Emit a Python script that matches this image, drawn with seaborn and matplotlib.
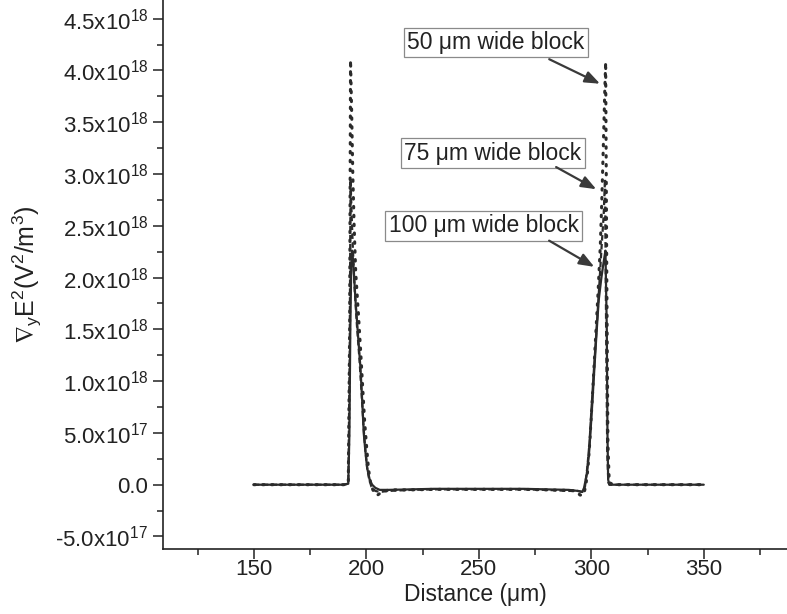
import matplotlib
matplotlib.use("Agg")
import matplotlib.pyplot as plt
from matplotlib.ticker import FixedLocator, MultipleLocator, FixedFormatter
import seaborn as sns
import pandas as pd

# 100 um wide block (solid)
x100 = [150, 190, 192.0, 192.5, 192.9, 193.3, 193.7, 194.2, 195.2, 196.3, 197.4, 198.2,
        198.9, 199.7, 200.4, 201.5, 202.6, 204, 206, 210, 220, 230, 240, 250, 260, 270,
        280, 290, 294, 296, 296.8, 298, 299, 299.6, 300.5, 301.4, 302.3, 303.3, 304.5,
        305.5, 306.3, 306.9, 307.2, 307.5, 308, 310, 350]
y100 = [0, 0, 0.01, 0.5, 1.5, 2.1, 2.26, 2.15, 1.78, 1.45, 1.13, 0.8,
        0.49, 0.3, 0.16, 0.05, 0.0, -0.03, -0.05, -0.05, -0.045, -0.04, -0.04, -0.04, -0.04, -0.04,
        -0.045, -0.05, -0.06, -0.07, -0.03, 0.1, 0.3, 0.49, 0.8, 1.13, 1.45, 1.78, 2.0,
        2.15, 2.26, 1.5, 0.5, 0.05, 0, 0, 0]

# 75 um wide block (dashed)
x75 = [150, 190, 192.0, 192.6, 193.0, 193.5, 194.0, 194.8, 195.8, 197, 198, 198.8, 199.6,
       200.4, 201.3, 202.3, 204, 206, 210, 220, 230, 240, 250, 260, 270, 280, 290,
       294, 296, 297.2, 298.2, 299.2, 300, 301, 302.2, 303.5, 304.6, 305.5, 306.1, 306.6,
       307.1, 307.6, 308.2, 310, 350]
y75 = [0, 0, 0.01, 1.2, 2.95, 2.6, 2.3, 1.9, 1.55, 1.2, 0.85, 0.55, 0.33,
       0.16, 0.05, -0.02, -0.06, -0.07, -0.06, -0.05, -0.045, -0.045, -0.045, -0.045, -0.045, -0.05, -0.06,
       -0.06, -0.07, -0.02, 0.16, 0.4, 0.7, 1.05, 1.45, 1.9, 2.3, 2.6, 2.95, 1.5,
       0.3, 0.02, 0, 0, 0]

# 50 um wide block (dotted)
x50 = [150, 190, 192.0, 192.6, 193.0, 193.5, 194.0, 194.6, 195.3, 196.5, 197.6, 198.5, 199.3,
       200.2, 201, 202, 203.5, 205, 207, 210, 220, 230, 240, 250, 260, 270, 280, 290,
       293, 295, 296.5, 297.5, 298.5, 299.3, 300.1, 301, 302, 303, 304, 304.7, 305.4, 306,
       306.4, 306.9, 307.4, 308, 310, 350]
y50 = [0, 0, 0.01, 1.5, 4.1, 3.6, 3.0, 2.5, 2.05, 1.65, 1.25, 0.9, 0.6,
       0.35, 0.15, 0.0, -0.08, -0.1, -0.07, -0.05, -0.05, -0.045, -0.045, -0.045, -0.045, -0.045, -0.05, -0.055,
       -0.06, -0.1, -0.1, -0.02, 0.15, 0.4, 0.7, 1.05, 1.45, 1.85, 2.3, 2.75, 3.3, 3.8,
       4.08, 2.0, 0.4, 0.02, 0, 0]

ytick_vals = [-0.5, 0.0, 0.5, 1.0, 1.5, 2.0, 2.5, 3.0, 3.5, 4.0, 4.5]
ytick_labels = ['-5.0x10$^{17}$', '0.0', '5.0x10$^{17}$', '1.0x10$^{18}$', '1.5x10$^{18}$',
                '2.0x10$^{18}$', '2.5x10$^{18}$', '3.0x10$^{18}$', '3.5x10$^{18}$',
                '4.0x10$^{18}$', '4.5x10$^{18}$']
xtick_vals = [150, 200, 250, 300, 350]

sns.set_style("ticks")
plt.rcParams['font.family'] = ['Liberation Sans', 'DejaVu Sans']
plt.rcParams['mathtext.fontset'] = 'custom'
plt.rcParams['mathtext.rm'] = 'Liberation Sans'
plt.rcParams['mathtext.it'] = 'Liberation Sans'

col = '#2b2b2b'
fig = plt.figure(figsize=(7.87, 6.14), dpi=100)
ax = fig.add_axes([0.207, 0.106, 0.793, 0.894])

d100 = pd.DataFrame({'x': x100, 'y': y100})
d75 = pd.DataFrame({'x': x75, 'y': y75})
d50 = pd.DataFrame({'x': x50, 'y': y50})
sns.lineplot(data=d50, x='x', y='y', ax=ax, color=col, lw=2.2, estimator=None, sort=False,
             linestyle=(0, (0.5, 2.4)), dash_capstyle='round')
sns.lineplot(data=d75, x='x', y='y', ax=ax, color=col, lw=1.6, estimator=None, sort=False,
             linestyle=(0, (2.5, 1.5)))
sns.lineplot(data=d100, x='x', y='y', ax=ax, color=col, lw=1.6, estimator=None, sort=False)

ax.set_xlim(109.6, 387)
ax.set_ylim(-0.62, 4.68)
ax.xaxis.set_major_locator(FixedLocator(xtick_vals))
ax.xaxis.set_minor_locator(MultipleLocator(25))
ax.yaxis.set_major_locator(FixedLocator(ytick_vals))
ax.yaxis.set_major_formatter(FixedFormatter(ytick_labels))
ax.yaxis.set_minor_locator(MultipleLocator(0.25))
ax.tick_params(which='major', direction='out', length=7, width=1.1, labelsize=16, colors='#222')
ax.tick_params(which='minor', direction='out', length=4, width=1.1, colors='#222')
ax.tick_params(axis='x', which='major', pad=0.5)
for s in ['top', 'right']:
    ax.spines[s].set_visible(False)
for s in ['left', 'bottom']:
    ax.spines[s].set_linewidth(1.2)
    ax.spines[s].set_color('#222')

ax.set_xlabel('Distance (\u03bcm)', fontsize=16.5, color='#222')
ax.set_ylabel(r'$\mathregular{\nabla_y E^2 (V^2/m^3)}$', fontsize=18, color='#222')
ax.yaxis.set_label_coords(-0.19, 0.5)
ax.xaxis.set_label_coords(0.5, -0.062)

box = dict(boxstyle='square,pad=0.15', fc='white', ec='#8a8a8a', lw=0.9)
arrow = dict(arrowstyle='-|>,head_length=0.9,head_width=0.35', color='#3a3a3a', lw=1.6)
labels = ['50 \u03bcm wide block', '75 \u03bcm wide block', '100 \u03bcm wide block']
text_pos = [(257.6, 4.27), (256.2, 3.2), (252.2, 2.5)]
tails = [(280.2, 4.12), (283.3, 3.08), (280.2, 2.37)]
tips = [(305.0, 3.86), (303.3, 2.84), (302.4, 2.09)]
for lab, tp, tl, tip in zip(labels, text_pos, tails, tips):
    ax.text(tp[0], tp[1], lab, fontsize=16.5, ha='center', va='center', bbox=box, color='#222')
    ax.annotate('', xy=tip, xytext=tl, arrowprops=arrow)

fig.savefig('out.png', dpi=100)
